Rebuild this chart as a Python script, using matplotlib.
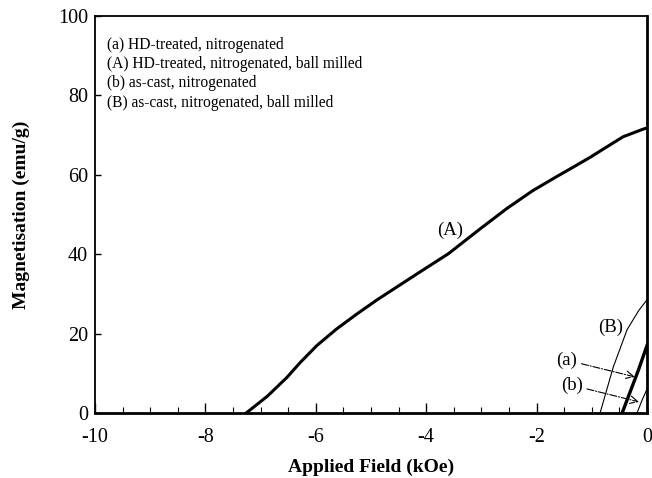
import matplotlib
matplotlib.use("Agg")
import matplotlib.pyplot as plt
from matplotlib.ticker import MultipleLocator

plt.rcParams['font.family'] = ['Liberation Serif', 'DejaVu Serif']
plt.rcParams['axes.unicode_minus'] = False

# Demagnetisation curves (second quadrant)
field_A = [-7.26, -6.88, -6.52, -6.29, -5.98, -5.62, -5.25, -4.89, -4.47, -4.06,
           -3.6, -3.03, -2.54, -2.07, -1.63, -1.34, -1.03, -0.72, -0.43, -0.07, 0.0]
mag_A = [0.0, 4.2, 9.0, 12.6, 17.0, 21.2, 25.0, 28.5, 32.3, 36.0,
         40.1, 46.3, 51.5, 56.0, 59.6, 61.9, 64.4, 67.1, 69.6, 71.5, 71.8]

field_a = [-0.45, -0.3, -0.15, 0.0]
mag_a = [0.0, 5.5, 11.0, 17.0]

field_B = [-0.85, -0.61, -0.36, -0.15, 0.0]
mag_B = [0.0, 11.6, 21.0, 25.8, 28.5]

field_b = [-0.18, -0.09, 0.0]
mag_b = [0.0, 3.2, 6.0]

legend_lines = [
    "(a) HD-treated, nitrogenated",
    "(A) HD-treated, nitrogenated, ball milled",
    "(b) as-cast, nitrogenated",
    "(B) as-cast, nitrogenated, ball milled",
]

x_ticks = [-10, -8, -6, -4, -2, 0]
y_ticks = [0, 20, 40, 60, 80, 100]

fig = plt.figure(figsize=(6.52, 4.78), dpi=100)
ax = fig.add_axes([0.1457, 0.136, 0.8466, 0.8305])

ax.plot(field_A, mag_A, color='black', lw=2.2, solid_joinstyle='round')
ax.plot(field_a, mag_a, color='black', lw=2.4)
ax.plot(field_B, mag_B, color='black', lw=0.8)
ax.plot(field_b, mag_b, color='black', lw=0.8)

ax.set_xlim(-10, 0)
ax.set_ylim(0, 100)
ax.set_xticks(x_ticks)
ax.set_yticks(y_ticks)
ax.xaxis.set_minor_locator(MultipleLocator(0.5))
ax.tick_params(which='both', direction='in', top=False, right=False,
               labelsize=14.5)
ax.tick_params(axis='x', which='major', length=7, width=1.0, pad=11)
ax.tick_params(axis='x', which='minor', length=4, width=0.8)
ax.tick_params(axis='y', which='major', length=4, width=1.0, pad=5)

for side, lw in [('left', 1.3), ('top', 1.3), ('right', 2.0), ('bottom', 2.0)]:
    ax.spines[side].set_linewidth(lw)

ax.set_xlabel("Applied Field (kOe)", fontsize=14, fontweight='bold', labelpad=8)
ax.set_ylabel("Magnetisation (emu/g)", fontsize=14, fontweight='bold', labelpad=20)

for i, line in enumerate(legend_lines):
    ax.text(0.022, 0.928 - i * 0.049, line, transform=ax.transAxes,
            fontsize=11.2, va='center', ha='left')

ax.text(-3.57, 46.0, "(A)", fontsize=13.5, ha='center', va='center')
ax.text(-0.65, 21.5, "(B)", fontsize=13.5, ha='center', va='center')

arrow_style = dict(arrowstyle='->', color='black', lw=0.8, linestyle='-.',
                   shrinkA=1, shrinkB=0)
ax.annotate("(a)", xy=(-0.22, 9.1), xytext=(-1.45, 13.3), fontsize=13.5,
            ha='center', va='center', arrowprops=arrow_style)
ax.annotate("(b)", xy=(-0.145, 2.8), xytext=(-1.36, 7.0), fontsize=13.5,
            ha='center', va='center', arrowprops=arrow_style)

fig.savefig("out.png", dpi=100)
